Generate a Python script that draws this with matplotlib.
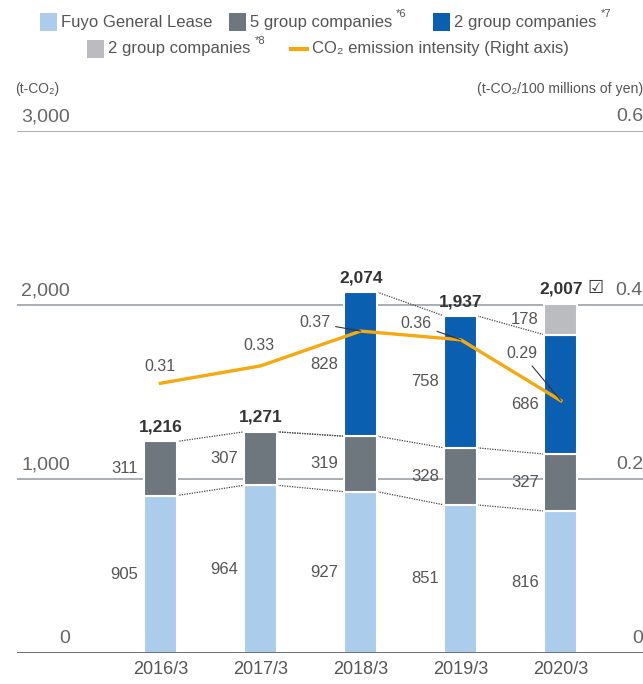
import matplotlib
matplotlib.use("Agg")
import matplotlib.pyplot as plt
import matplotlib.transforms as mtransforms
from matplotlib.patches import Rectangle
from matplotlib.lines import Line2D
import numpy as np

plt.rcParams['font.family'] = ['Liberation Sans', 'DejaVu Sans']

years = ['2016/3', '2017/3', '2018/3', '2019/3', '2020/3']
fuyo = [905, 964, 927, 851, 816]
group5 = [311, 307, 319, 328, 327]
group2a = [0, 0, 828, 758, 686]
group2b = [0, 0, 0, 0, 178]
totals = [1216, 1271, 2074, 1937, 2007]
intensity = [0.31, 0.33, 0.37, 0.36, 0.29]

left_ticks = [0, 1000, 2000, 3000]
left_tick_labels = ['0', '1,000', '2,000', '3,000']
right_ticks = [0, 0.2, 0.4, 0.6]
right_tick_labels = ['0', '0.2', '0.4', '0.6']

c_fuyo = '#abcdeb'
c_g5 = '#6d777d'
c_g2a = '#0b5fb0'
c_g2b = '#bbbcbf'
c_line = '#f5a90f'
c_text = '#555555'
c_dark = '#333333'

W, H = 643, 684
fig = plt.figure(figsize=(W / 100, H / 100), dpi=100)
ax = fig.add_axes([17 / W, (H - 653) / H, (W - 17) / W, (653 - 131) / H])
ax2 = ax.twinx()

x = np.arange(len(years))
bw = 0.33
ax.set_xlim(-1.432, 4.82)
ax.set_ylim(0, 3000)
ax2.set_ylim(0, 0.6)
for a in (ax, ax2):
    for s in a.spines.values():
        s.set_visible(False)
    a.set_xticks([])
    a.set_yticks([])

# grid lines
for t in left_ticks[1:]:
    ax.axhline(t, color='#9aa1a6', lw=1.2, zorder=0)
ax.axhline(0, color='#555555', lw=1.2, zorder=3)

# stacked bars
series = [(fuyo, c_fuyo), (group5, c_g5), (group2a, c_g2a), (group2b, c_g2b)]
bottom = np.zeros(len(years))
tops = []
for vals, col in series:
    vals = np.array(vals, dtype=float)
    mask = vals > 0
    ax.bar(x[mask], vals[mask], bw, bottom=bottom[mask], color=col,
           edgecolor='white', linewidth=1.5, zorder=2)
    for i in x[mask]:
        yoff = -7 if (col == c_g2a and i == 4) else 0
        ax.annotate(f'{int(vals[i])}', (i - bw / 2, bottom[i] + vals[i] / 2),
                    xytext=(-4, yoff), textcoords='offset points',
                    ha='right', va='center', fontsize=12, color=c_text)
    top = np.where(mask, bottom + vals, np.nan)
    tops.append(top)
    bottom = bottom + vals

# dotted connectors between the tops of each series
for top in tops:
    for i in range(len(years) - 1):
        if np.isnan(top[i + 1]) or np.isnan(top[i]):
            continue
        ax.plot([i + bw / 2, i + 1 - bw / 2], [top[i], top[i + 1]], ls=(0, (1, 1)),
                color='#444444', lw=0.9, zorder=1)
# 2017 total runs into the 5-group top of 2018
ax.plot([1 + bw / 2, 2 - bw / 2], [totals[1], tops[1][2]], ls=(0, (1, 1)),
        color='#444444', lw=0.9, zorder=1)

# totals
for i, t in enumerate(totals):
    ax.annotate(f'{t:,}', (i, t), xytext=(0, 5), textcoords='offset points',
                ha='center', va='bottom', fontsize=12.5, fontweight='bold',
                color=c_dark)
ax.annotate('\u2611', (4, totals[4]), xytext=(19, 5), textcoords='offset points',
            ha='left', va='bottom', fontsize=13, color=c_dark,
            family=['DejaVu Sans'])

# intensity line
ax2.plot(x, intensity, color=c_line, lw=2.4, zorder=4)
lbl_plain = {0: (0, 7), 1: (-1, 9)}
for i, (dx, dy) in lbl_plain.items():
    ax2.annotate(f'{intensity[i]:.2f}', (i, intensity[i]), xytext=(dx, dy),
                 textcoords='offset points', ha='center', va='bottom',
                 fontsize=11.5, color=c_text)
lbl_leader = {2: (-22, 6), 3: (-21, 11.5), 4: (-17, 34)}
for i, (dx, dy) in lbl_leader.items():
    ax2.annotate(f'{intensity[i]:.2f}', (i, intensity[i]), xytext=(dx, dy),
                 textcoords='offset points', ha='right', va='center',
                 fontsize=11.5, color=c_text, zorder=5,
                 arrowprops=dict(arrowstyle='-', color='#333333', lw=0.8,
                                 shrinkA=2, shrinkB=0))

# axis labels
ltr = mtransforms.offset_copy(ax.get_yaxis_transform(), fig=fig, x=0, y=4, units='points')
for t, s in zip(left_ticks, left_tick_labels):
    ax.text(53 / 626, t, s, transform=ltr, ha='right', va='bottom',
            fontsize=14, color='#666666')
rtr = mtransforms.offset_copy(ax2.get_yaxis_transform(), fig=fig, x=0, y=4, units='points')
for t, s in zip(right_ticks, right_tick_labels):
    ax2.text(1.0, t, s, transform=rtr, ha='right', va='bottom',
             fontsize=14, color='#666666')

for i, yl in enumerate(years):
    ax.annotate(yl, (i, 0), xytext=(0, -6), textcoords='offset points',
                ha='center', va='top', fontsize=13, color=c_text)

fig.text(15 / W, 1 - 89 / H, '(t-CO\u2082)', ha='left', va='center',
         fontsize=10, color=c_text)
fig.text(1.0, 1 - 89 / H, '(t-CO\u2082/100 millions of yen)', ha='right',
         va='center', fontsize=10.2, color=c_text)

# legend
fig.canvas.draw()
renderer = fig.canvas.get_renderer()


def legend_item(px, py, label, sup=None, patch_color=None, line_color=None):
    yc = 1 - py / H
    if patch_color is not None:
        fig.patches.append(Rectangle((px / W, yc - 8.5 / H), 17 / W, 17 / H,
                                     transform=fig.transFigure,
                                     facecolor=patch_color, edgecolor='none'))
    else:
        fig.lines.append(Line2D([px / W, (px + 16) / W], [yc, yc],
                                transform=fig.transFigure, color=line_color, lw=3))
    t = fig.text((px + 21) / W, yc, label, ha='left', va='center',
                 fontsize=12, color=c_text)
    if sup:
        bb = t.get_window_extent(renderer)
        fig.text((bb.x1 + 4) / W, yc + 3 / H, sup, ha='left', va='bottom',
                 fontsize=8, color=c_text)


legend_item(40, 22, 'Fuyo General Lease', patch_color=c_fuyo)
legend_item(229, 22, '5 group companies', '*6', patch_color=c_g5)
legend_item(433, 22, '2 group companies', '*7', patch_color=c_g2a)
legend_item(87, 49, '2 group companies', '*8', patch_color=c_g2b)
legend_item(291, 49, 'CO\u2082 emission intensity (Right axis)', line_color=c_line)

fig.savefig('out.png', dpi=100)
